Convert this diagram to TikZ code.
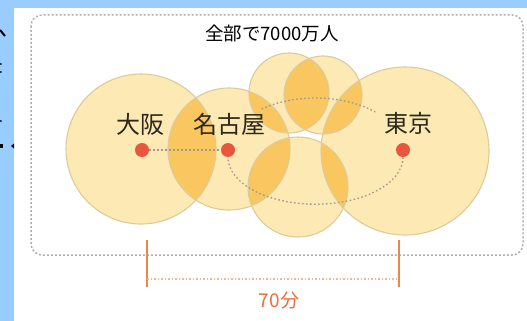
\documentclass[tikz,border=0pt]{standalone}
\usepackage{fontspec}
\newfontfamily\jp{Noto Sans CJK JP}
\definecolor{bgblue}{RGB}{153,204,255}
\definecolor{lightfill}{RGB}{253,233,180}
\definecolor{darkfill}{RGB}{249,198,95}
\definecolor{rim}{RGB}{220,203,155}
\definecolor{dotred}{RGB}{232,86,62}
\definecolor{framegray}{RGB}{175,175,175}
\definecolor{linegray}{RGB}{160,155,140}
\definecolor{orangeline}{RGB}{234,135,75}
\definecolor{orangetext}{RGB}{232,112,60}
\definecolor{txt}{RGB}{45,40,28}
\tikzset{
  citydot/.style={circle,fill=dotred,inner sep=0pt,minimum size=14pt},
  citylabel/.style={font=\jp\fontsize{24}{24}\selectfont,text=txt,inner sep=0pt},
  dotline/.style={draw=linegray,line width=1.3pt,dash pattern=on 1.6pt off 2.4pt},
  framestyle/.style={draw=framegray,line width=1.5pt,dash pattern=on 2pt off 2pt,rounded corners=11pt},
  rimline/.style={draw=rim,line width=1.1pt},
  bracket/.style={draw=orangeline,line width=1.5pt},
  bracketdot/.style={draw=orangeline!60,line width=1.2pt,dash pattern=on 1.5pt off 2pt}
}
\begin{document}
\begin{tikzpicture}[x=1pt,y=-1pt]
\useasboundingbox (0,0) rectangle (527,321);
% background
\fill[bgblue] (0,0) rectangle (527,321);
\fill[white] (14,8) rectangle (527,321);
% marks at left edge
\draw[black,line width=2pt] (0,30) -- (5,36);
\fill[black] (0.8,64) circle (1pt);
\fill[black] (0.8,72) circle (1pt);
\fill[black] (0.8,121) circle (1pt);
\fill[black] (0,144) rectangle (3,148);
\fill[black] (11,146) -- (14,143.5) -- (14,148.5) -- cycle;
% frame
\draw[framestyle] (31,15) rectangle (523,255);
\node[font=\jp\fontsize{18.5}{18.5}\selectfont,text=black,inner sep=0pt] (title) at (272,33) {全部で7000万人};
% circle centres
\coordinate (A) at (141,149);
\coordinate (B) at (229,149);
\coordinate (C) at (289,93);
\coordinate (D) at (323,95);
\coordinate (E) at (298,187);
\coordinate (F) at (405,151);
% light fills
\fill[lightfill] (A) circle (75);
\fill[lightfill] (B) circle (61);
\fill[lightfill] (C) circle (40);
\fill[lightfill] (D) circle (39);
\fill[lightfill] (E) circle (50);
\fill[lightfill] (F) circle (84);
% overlaps
\begin{scope}\clip (A) circle (75); \fill[darkfill] (B) circle (61);\end{scope}
\begin{scope}\clip (B) circle (61); \fill[darkfill] (C) circle (40);\end{scope}
\begin{scope}\clip (B) circle (61); \fill[darkfill] (E) circle (50);\end{scope}
\begin{scope}\clip (C) circle (40); \fill[darkfill] (D) circle (39);\end{scope}
\begin{scope}\clip (D) circle (39); \fill[darkfill] (F) circle (84);\end{scope}
\begin{scope}\clip (E) circle (50); \fill[darkfill] (F) circle (84);\end{scope}
% rims
\draw[rimline] (A) circle (75);
\draw[rimline] (B) circle (61);
\draw[rimline] (C) circle (40);
\draw[rimline] (D) circle (39);
\draw[rimline] (E) circle (50);
\draw[rimline] (F) circle (84);
% city dots and labels
\node[citydot] (osaka) at (142,150) {};
\node[citydot] (nagoya) at (228,150) {};
\node[citydot] (tokyo) at (403,150) {};
\node[citylabel] (osakaL) at (140,124) {大阪};
\node[citylabel] (nagoyaL) at (229.5,124) {名古屋};
\node[citylabel] (tokyoL) at (408,123) {東京};
% dotted routes
\draw[dotline] (osaka) -- (nagoya);
\draw[dotline] (tokyo.south) arc[start angle=0,end angle=180,x radius=87.5,y radius=47] -- (nagoya.south);
\draw[dotline] (315.5,150) ++(232:87.5 and 52) arc[start angle=232,end angle=314,x radius=87.5,y radius=52];
% 70 min bracket
\coordinate (bl) at (147,240);
\coordinate (br) at (399,240);
\draw[bracket] (bl) -- ++(0,47) coordinate (blb);
\draw[bracket] (br) -- ++(0,47) coordinate (brb);
\draw[bracketdot] ([yshift=8pt]blb) -- ([yshift=8pt]brb);
\node[font=\jp\fontsize{19}{19}\selectfont,text=orangetext,inner sep=0pt] (time) at (279,300) {70分};
\end{tikzpicture}
\end{document}
